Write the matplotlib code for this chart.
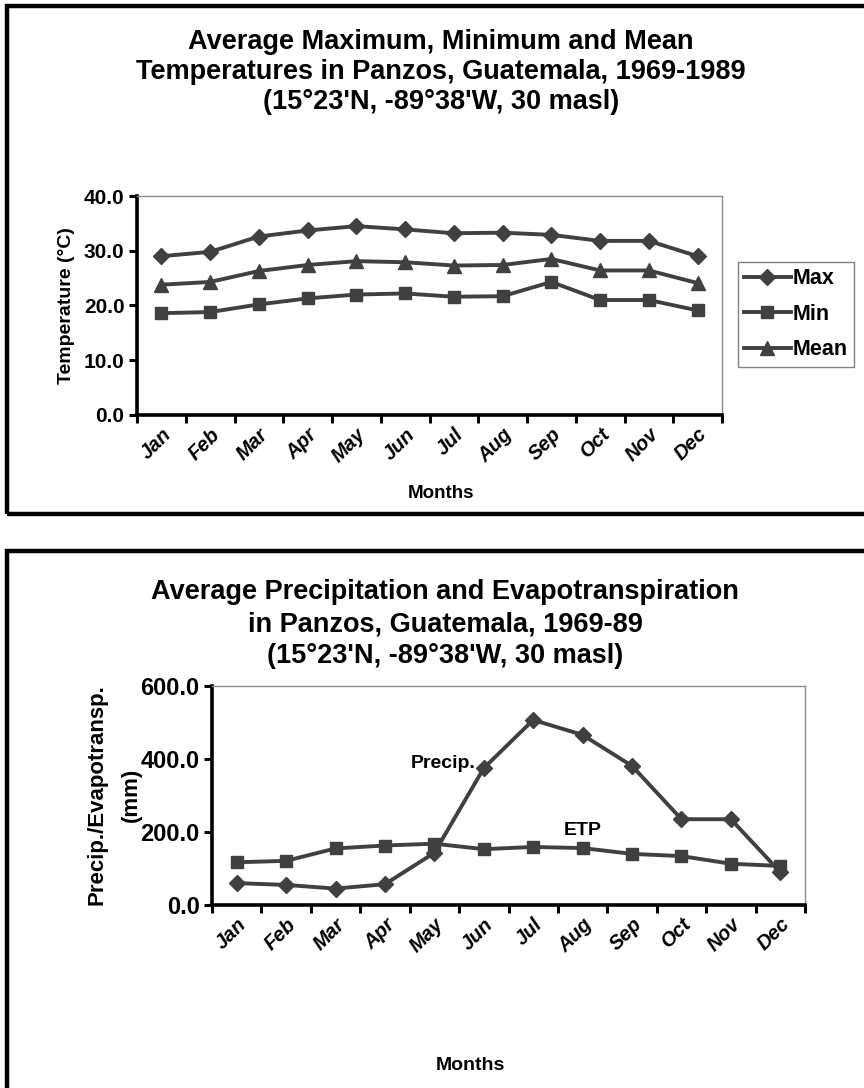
import numpy as np
import matplotlib.pyplot as plt
import matplotlib.transforms as mtransforms
from matplotlib.patches import Rectangle

plt.rcParams['font.family'] = ['Liberation Sans', 'DejaVu Sans']
plt.rcParams['font.weight'] = 'bold'
plt.rcParams['axes.labelweight'] = 'bold'

months   = ['Jan', 'Feb', 'Mar', 'Apr', 'May', 'Jun', 'Jul', 'Aug', 'Sep', 'Oct', 'Nov', 'Dec']
t_max    = [29.0, 29.8, 32.6, 33.7, 34.5, 33.9, 33.2, 33.3, 32.9, 31.8, 31.8, 29.0]
t_min    = [18.6, 18.8, 20.2, 21.3, 22.0, 22.2, 21.6, 21.7, 24.3, 21.0, 21.0, 19.1]
t_mean   = [23.8, 24.3, 26.3, 27.4, 28.1, 27.9, 27.3, 27.4, 28.5, 26.4, 26.4, 24.1]
precip   = [60.0, 55.0, 45.0, 57.0, 143.0, 375.0, 507.0, 466.0, 381.0, 235.0, 235.0, 90.0]
etp      = [117.0, 121.0, 155.0, 163.0, 168.0, 153.0, 159.0, 156.0, 140.0, 134.0, 113.0, 107.0]

line_c = '#404040'
W, H = 864, 1088

fig = plt.figure(figsize=(W / 100, H / 100), dpi=100)

def fx(px):
    return px / W

def fy(py):
    return 1 - py / H

# thick black frames around each chart
for top, bot in [(6, 514), (551, 1110)]:
    fig.patches.append(Rectangle((fx(7), fy(bot)), 1.2, fy(top) - fy(bot),
                                 transform=fig.transFigure, fill=False,
                                 lw=3.2, ec='black', zorder=0))

def axes_px(left, right, top, bottom):
    return fig.add_axes([fx(left), fy(bottom), fx(right) - fx(left), fy(top) - fy(bottom)])

def style_axes(ax, ymax, ystep, ytick_size):
    x = np.arange(len(months)) + 0.5
    ax.set_xlim(0, len(months))
    ax.set_ylim(0, ymax)
    ax.set_xticks(np.arange(len(months) + 1))
    ax.set_xticklabels([])
    ax.set_xticks(x, minor=True)
    ax.set_xticklabels(months, minor=True, rotation=45, ha='right',
                       rotation_mode='anchor', fontsize=14.5, fontstyle='italic',
                       fontweight='bold')
    shift = mtransforms.ScaledTranslation(10 / 100, 0, fig.dpi_scale_trans)
    for lab in ax.get_xticklabels(minor=True):
        lab.set_transform(lab.get_transform() + shift)
    ax.tick_params(axis='x', which='minor', length=0, pad=7)
    ax.tick_params(axis='x', which='major', length=6, width=2.2, direction='out')
    yt = np.arange(0, ymax + 1, ystep)
    ax.set_yticks(yt)
    ax.set_yticklabels(['%.1f' % v for v in yt], fontsize=ytick_size)
    ax.tick_params(axis='y', length=6, width=2.2, direction='out', pad=3)
    for s in ['left', 'bottom']:
        ax.spines[s].set_linewidth(2.6)
        ax.spines[s].set_color('black')
    for s in ['top', 'right']:
        ax.spines[s].set_linewidth(1.0)
        ax.spines[s].set_color('#8c8c8c')
    return x

# --- temperatures ---
titles1 = ['Average Maximum, Minimum and Mean',
           'Temperatures in Panzos, Guatemala, 1969-1989',
           "(15\u00b023'N, -89\u00b038'W, 30 masl)"]
for i, t in enumerate(titles1):
    fig.text(fx(441), fy(42 + 30 * i), t, ha='center', va='center', fontsize=19.5)

ax1 = axes_px(137, 722, 196, 415)
x = style_axes(ax1, 40, 10, 15)
ax1.plot(x, t_max, color=line_c, lw=2.8, marker='D', ms=8.5, label='Max')
ax1.plot(x, t_min, color=line_c, lw=2.8, marker='s', ms=9, label='Min')
ax1.plot(x, t_mean, color=line_c, lw=2.8, marker='^', ms=10, label='Mean')
ax1.set_ylabel('Temperature (\u00b0C)', fontsize=14, labelpad=6)
fig.text(fx(441), fy(493), 'Months', ha='center', va='center', fontsize=13.5)
leg = ax1.legend(loc='upper left', bbox_to_anchor=(1.027, 0.70), fontsize=15.5,
                 frameon=True, fancybox=False, edgecolor='#606060', handlelength=2.15,
                 handletextpad=0.08, borderpad=0.3, borderaxespad=0,
                 labelspacing=0.68)
leg.get_frame().set_linewidth(1.0)

# --- precipitation / evapotranspiration ---
titles2 = ['Average Precipitation and Evapotranspiration',
           'in Panzos, Guatemala, 1969-89',
           "(15\u00b023'N, -89\u00b038'W, 30 masl)"]
for i, t in enumerate(titles2):
    fig.text(fx(445), fy(592 + 32 * i), t, ha='center', va='center', fontsize=19.5)

ax2 = axes_px(212, 805, 686, 905)
x = style_axes(ax2, 600, 200, 17)
ax2.plot(x, precip, color=line_c, lw=2.8, marker='D', ms=8.5)
ax2.plot(x, etp, color=line_c, lw=2.8, marker='s', ms=9)
ax2.text(5.34, 388, 'Precip.', ha='right', va='center', fontsize=14)
ax2.text(7.5, 205, 'ETP', ha='center', va='center', fontsize=14)
fig.text(fx(97), fy(795), 'Precip./Evapotransp.', rotation=90, ha='center', va='center', fontsize=16)
fig.text(fx(131), fy(795), '(mm)', rotation=90, ha='center', va='center', fontsize=16)
fig.text(fx(470), fy(1065), 'Months', ha='center', va='center', fontsize=14)

fig.savefig('out.png', dpi=100)
